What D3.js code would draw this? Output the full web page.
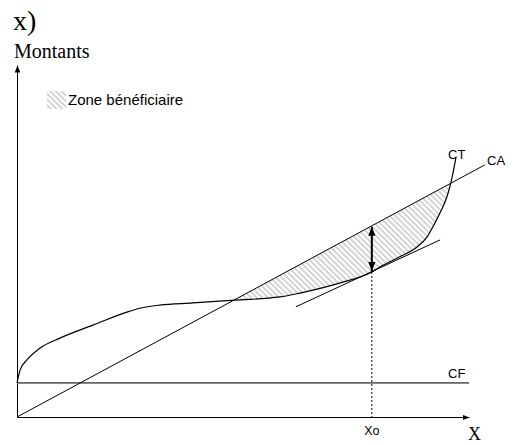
<!DOCTYPE html>
<html>
<head>
<meta charset="utf-8">
<script src="https://cdn.jsdelivr.net/npm/d3@7"></script>
<style>
  body { margin: 0; background: #fff; }
</style>
</head>
<body>
<div id="chart"></div>
<script>
// seuil de rentabilite : CA, CT, CF en fonction de la quantite X

var ctX = [0, 0.7, 2.2, 5.1, 9.5, 16.8, 24.3, 27.2, 31.6, 38.9, 48.2, 58.2, 62.6, 71.5,
	78.5, 80.3, 84.7, 88.5, 90.7, 92.0, 93.6, 95.1, 95.8, 96.5, 97.1];
var ctY = [9.7, 13.4, 16.2, 19.6, 22.4, 26.1, 29.8, 30.9, 31.8, 32.4, 33.2, 34.1, 35.2, 38.1,
	41.2, 42.6, 45.5, 48.3, 51.1, 54.0, 58.0, 62.5, 65.6, 69.6, 73.6];
var caX = [0, 103.5];
var caSlope = 0.692; // CA = caSlope * X
var cfX = [0, 100];
var cfValue = 9.7;
var tanX = [61.7, 93.6]; // tangente a CT au point Xo
var tanY = [31.3, 50.3];
var xo = 78.5;
var labels = { title: "x)", yAxis: "Montants", xAxis: "X", xo: "Xo", ct: "CT", ca: "CA", cf: "CF", zone: "Zone bénéficiaire" };

var serif = "'Liberation Serif', 'Times New Roman', serif";
var sans = "'Liberation Sans', Arial, sans-serif";

var width = 515, height = 445;

var svg = d3.select("#chart").append("svg")
	.attr("width", width)
	.attr("height", height);

var x = d3.scaleLinear().domain([0, 100]).range([17, 469]);
var y = d3.scaleLinear().domain([0, 100]).range([417, 65]);

var ca = function(v) { return caSlope * v; };

var ctData = ctX.map(function(d, i) { return { x: d, y: ctY[i] }; });

var defs = svg.append("defs");

// hachures de la zone beneficiaire
defs.append("pattern")
	.attr("id", "hatch")
	.attr("patternUnits", "userSpaceOnUse")
	.attr("width", 4)
	.attr("height", 4)
	.attr("patternTransform", "rotate(45)")
	.call(function(p) {
		p.append("rect").attr("width", 4).attr("height", 4).attr("fill", "#fff");
		p.append("rect").attr("width", 4).attr("height", 2).attr("fill", "#d4d4d4");
	});

var addArrow = function(id, size) {
	defs.append("marker")
		.attr("id", id)
		.attr("viewBox", "0 -5 10 10")
		.attr("refX", 10)
		.attr("refY", 0)
		.attr("markerUnits", "userSpaceOnUse")
		.attr("markerWidth", size)
		.attr("markerHeight", size)
		.attr("orient", "auto-start-reverse")
		.append("path")
		.attr("d", "M0,-4L10,0L0,4Z")
		.attr("fill", "#000");
};
addArrow("axisArrow", 7);
addArrow("bigArrow", 9);

// zone beneficiaire : CA au-dessus de CT
var area = d3.area()
	.curve(d3.curveMonotoneX)
	.x(function(d) { return x(d.x); })
	.y0(function(d) { return y(d.y); })
	.y1(function(d) { return y(Math.max(ca(d.x), d.y)); });

svg.append("path")
	.datum(ctData.filter(function(d) { return d.x >= 48.2 && d.x <= 96.5; }))
	.attr("d", area)
	.attr("fill", "url(#hatch)");

// axes sans graduations
svg.append("g")
	.attr("transform", "translate(0," + y(0) + ")")
	.call(d3.axisBottom(x).ticks(0).tickSizeOuter(0))
	.select(".domain")
	.attr("stroke-width", 1)
	.attr("marker-end", "url(#axisArrow)");

svg.append("g")
	.attr("transform", "translate(" + x(0) + ",0)")
	.call(d3.axisLeft(y).ticks(0).tickSizeOuter(0))
	.select(".domain")
	.attr("stroke-width", 1)
	.attr("marker-end", "url(#axisArrow)");

var line = d3.line()
	.x(function(d) { return x(d.x); })
	.y(function(d) { return y(d.y); });

// CF
svg.append("path")
	.datum(cfX.map(function(d) { return { x: d, y: cfValue }; }))
	.attr("d", line)
	.attr("fill", "none")
	.attr("stroke", "#666")
	.attr("stroke-width", 1.6);

// CA
svg.append("path")
	.datum(caX.map(function(d) { return { x: d, y: ca(d) }; }))
	.attr("d", line)
	.attr("fill", "none")
	.attr("stroke", "#000")
	.attr("stroke-width", 1);

// CT
svg.append("path")
	.datum(ctData)
	.attr("d", line.curve(d3.curveMonotoneX))
	.attr("fill", "none")
	.attr("stroke", "#000")
	.attr("stroke-width", 1.2);
line.curve(d3.curveLinear);

// tangente
svg.append("path")
	.datum(tanX.map(function(d, i) { return { x: d, y: tanY[i] }; }))
	.attr("d", line)
	.attr("fill", "none")
	.attr("stroke", "#000")
	.attr("stroke-width", 1);

// Xo en pointilles
var ctAtXo = ctY[ctX.indexOf(xo)];
svg.append("line")
	.attr("x1", x(xo)).attr("x2", x(xo))
	.attr("y1", y(ctAtXo)).attr("y2", y(0))
	.attr("stroke", "#000")
	.attr("stroke-width", 1)
	.attr("stroke-dasharray", "2,2");

// ecart CA - CT (double fleche)
svg.append("line")
	.attr("x1", x(xo)).attr("x2", x(xo))
	.attr("y1", y(ctAtXo) - 1).attr("y2", y(ca(xo)) + 1)
	.attr("stroke", "#000")
	.attr("stroke-width", 2)
	.attr("marker-start", "url(#bigArrow)")
	.attr("marker-end", "url(#bigArrow)");

// textes
var addText = function(txt, px, py, size, family, anchor) {
	svg.append("text")
		.attr("x", px).attr("y", py)
		.attr("font-size", size)
		.attr("font-family", family)
		.attr("text-anchor", anchor || "start")
		.attr("fill", "#000")
		.text(txt);
};
addText(labels.title, 13, 30, 28, serif);
addText(labels.yAxis, 14, 58, 20, serif);
addText(labels.xAxis, 468, 440, 18, serif);
addText(labels.xo, x(xo), 435, 12.5, sans, "middle");
addText(labels.ct, 448, 159, 13, sans);
addText(labels.ca, 487, 165, 13, sans);
addText(labels.cf, 448, 378, 13, sans);

// legende
svg.append("rect")
	.attr("x", 47).attr("y", 91).attr("width", 19).attr("height", 18)
	.attr("fill", "url(#hatch)");
addText(labels.zone, 68, 105, 15, sans);
</script>
</body>
</html>
